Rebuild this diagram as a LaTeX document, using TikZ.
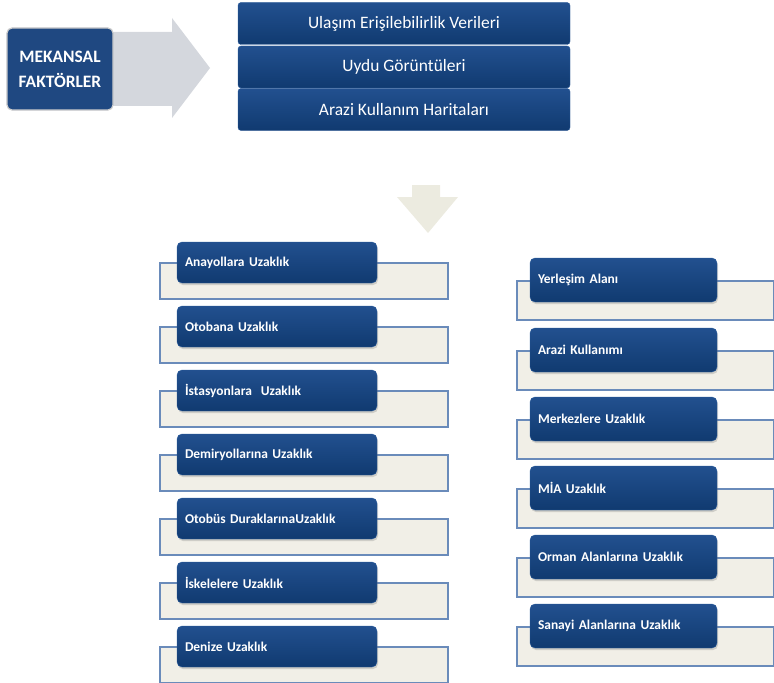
\documentclass[tikz,border=0pt]{standalone}
\usepackage{fontspec}
\setmainfont{Carlito}
\usetikzlibrary{shadows}

\definecolor{boxtop}{HTML}{22508F}
\definecolor{boxbot}{HTML}{103A70}
\definecolor{boxedge}{HTML}{2B5C9C}
\definecolor{stripfill}{HTML}{F1EFE7}
\definecolor{stripedge}{HTML}{6A8BBA}
\definecolor{arrowgray}{HTML}{D4D7DD}
\definecolor{arrowbeige}{HTML}{ECEBE0}

\tikzset{
  mainbox/.style={rectangle, rounded corners=5bp, fill=boxtop!90!black,
    draw=gray!40, line width=1.2bp, minimum width=106bp, minimum height=82bp,
    align=center, text=white, font=\fontsize{17.5}{25}\selectfont\bfseries},
  topbox/.style={rectangle, rounded corners=3bp, top color=boxtop, bottom color=boxbot,
    draw=boxedge, minimum width=332bp, minimum height=42bp,
    text=white, font=\fontsize{17.5}{19}\selectfont},
  itembox/.style={rectangle, rounded corners=5bp, top color=boxtop, bottom color=boxbot,
    draw=boxedge, inner xsep=8bp, align=left, text=white,
    font=\fontsize{13.5}{15}\selectfont\bfseries,
    drop shadow={shadow xshift=1bp, shadow yshift=-2bp, opacity=0.3}},
  leftbox/.style={itembox, text width=184bp, minimum height=41bp},
  rightbox/.style={itembox, text width=171bp, minimum height=44bp},
  strip/.style={rectangle, fill=stripfill, draw=stripedge, line width=1.2bp},
  leftstrip/.style={strip, minimum width=288bp, minimum height=36bp},
  rightstrip/.style={strip, minimum width=257bp, minimum height=39bp},
}

\begin{document}
\begin{tikzpicture}[x=1bp,y=-1bp]
  \useasboundingbox (0,0) rectangle (774,683);

  % block arrows
  \fill[arrowgray] (105,32) -- (172,32) -- (172,18) -- (210,68) -- (172,118)
    -- (172,106) -- (105,106) -- cycle;
  \fill[arrowbeige] (412,185) -- (440,185) -- (440,197) -- (458,197) -- (428,233)
    -- (397,197) -- (412,197) -- cycle;

  \node[mainbox] (mekan) at (60,69) {MEKANSAL\\FAKTÖRLER};

  % data sources
  \node[topbox] (ulasim) at (404,23.5) {Ulaşım Erişilebilirlik Verileri};
  \node[topbox] (uydu)   at (404,67)   {Uydu Görüntüleri};
  \node[topbox] (arazi)  at (404,109.5) {Arazi Kullanım Haritaları};

  % left column
  \node[leftstrip] (s1) at (304,281) {};
  \node[leftbox]   (l1) at (277,262.5) {Anayollara Uzaklık};
  \node[leftstrip] (s2) at (304,345) {};
  \node[leftbox]   (l2) at (277,326.5) {Otobana Uzaklık};
  \node[leftstrip] (s3) at (304,409) {};
  \node[leftbox]   (l3) at (277,390.5) {İstasyonlara\ \ Uzaklık};
  \node[leftstrip] (s4) at (304,473) {};
  \node[leftbox]   (l4) at (277,454.5) {Demiryollarına Uzaklık};
  \node[leftstrip] (s5) at (304,537) {};
  \node[leftbox]   (l5) at (277,518.5) {Otobüs DuraklarınaUzaklık};
  \node[leftstrip] (s6) at (304,601) {};
  \node[leftbox]   (l6) at (277,582.5) {İskelelere Uzaklık};
  \node[leftstrip] (s7) at (304,665) {};
  \node[leftbox]   (l7) at (277,646.5) {Denize Uzaklık};

  % right column
  \node[rightstrip] (t1) at (645.5,300.5) {};
  \node[rightbox]   (r1) at (623.5,280) {Yerleşim Alanı};
  \node[rightstrip] (t2) at (645.5,370.5) {};
  \node[rightbox]   (r2) at (623.5,350) {Arazi Kullanımı};
  \node[rightstrip] (t3) at (645.5,439.5) {};
  \node[rightbox]   (r3) at (623.5,419) {Merkezlere Uzaklık};
  \node[rightstrip] (t4) at (645.5,508.5) {};
  \node[rightbox]   (r4) at (623.5,488) {MİA Uzaklık};
  \node[rightstrip] (t5) at (645.5,577.5) {};
  \node[rightbox]   (r5) at (623.5,557) {Orman Alanlarına Uzaklık};
  \node[rightstrip] (t6) at (645.5,646.5) {};
  \node[rightbox]   (r6) at (623.5,626) {Sanayi Alanlarına Uzaklık};
\end{tikzpicture}
\end{document}
